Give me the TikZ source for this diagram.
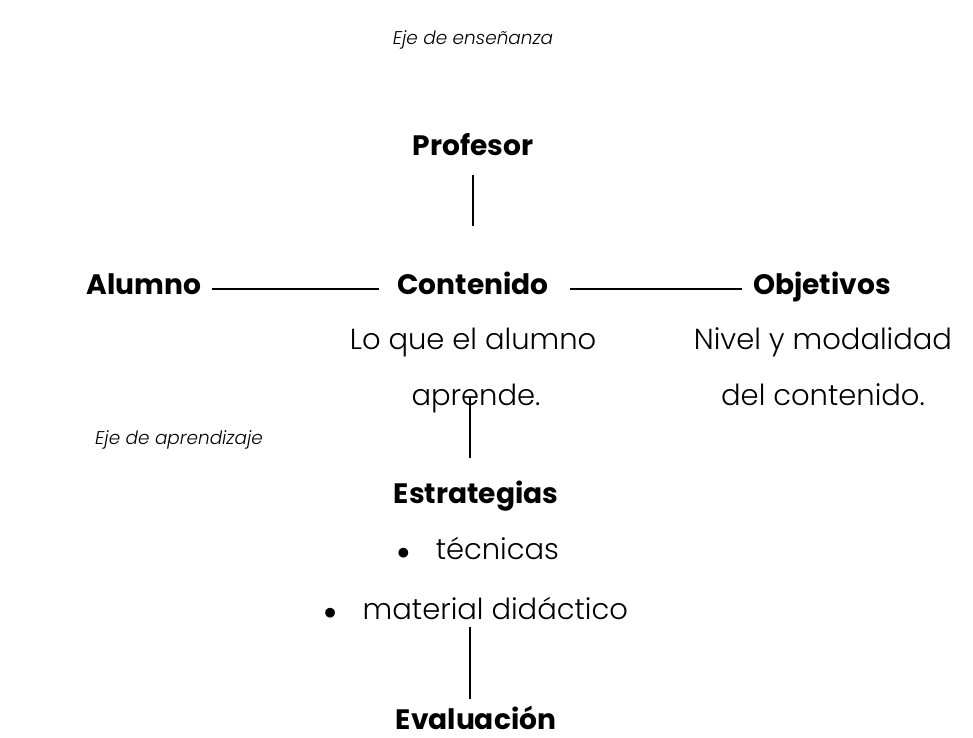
\documentclass[tikz,border=0pt]{standalone}
\usepackage{fontspec}
\setmainfont{Poppins}
\newfontfamily\lightfont{Poppins Light}
\usepackage{tikz}

\begin{document}
\begin{tikzpicture}[x=0.02cm,y=-0.02cm,
  txt/.style={font=\lightfont\fontsize{16.5}{19}\selectfont,inner sep=0pt,text height=1.5ex,text depth=0.3ex},
  bold/.style={font=\fontsize{16}{19}\selectfont\bfseries,inner sep=0pt,text height=1.6ex,text depth=0.5ex},
  eje/.style={font=\lightfont\fontsize{10.5}{12}\selectfont\itshape,inner sep=0pt},
  line/.style={line width=0.9pt,black}]
 \useasboundingbox (0,0) rectangle (973,737);

 \node[eje] (eens) at (473,40) {Eje de enseñanza};
 \node[eje] (eapr) at (179,440) {Eje de aprendizaje};

 \node[bold] (prof) at (473,150) {Profesor};
 \node[bold] (alum) at (144,289) {Alumno};
 \node[bold] (cont) at (473,289) {Contenido};
 \node[bold] (obj) at (822,289) {Objetivos};
 \node[txt] (lo) at (473,344) {Lo que el alumno};
 \node[txt] (apr) at (476,400) {aprende.};
 \node[txt] (niv) at (823,344) {Nivel y modalidad};
 \node[txt] (del) at (823,400) {del contenido.};

 \node[bold] (estr) at (476,498) {Estrategias};
 \node[txt] (tec) at (478,554) {{\Large$\bullet$}\hspace{0.9em}técnicas};
 \node[txt] (mat) at (476,614) {{\Large$\bullet$}\hspace{0.9em}material didáctico};
 \node[bold] (eval) at (476,724) {Evaluación};

 \draw[line,shorten <=8pt,shorten >=30pt] (prof) -- (cont);
 \draw[line,shorten <=6pt,shorten >=10pt] (alum) -- (cont);
 \draw[line,shorten <=12pt,shorten >=6pt] (cont) -- (obj);
 \draw[line,shorten <=-7pt,shorten >=17pt] (apr.south -| 470,0) -- (estr.north -| 470,0);
 \draw[line,line width=0.7pt,shorten <=2pt,shorten >=8pt] (mat.south -| 470,0) -- (eval.north -| 470,0);
\end{tikzpicture}
\end{document}
